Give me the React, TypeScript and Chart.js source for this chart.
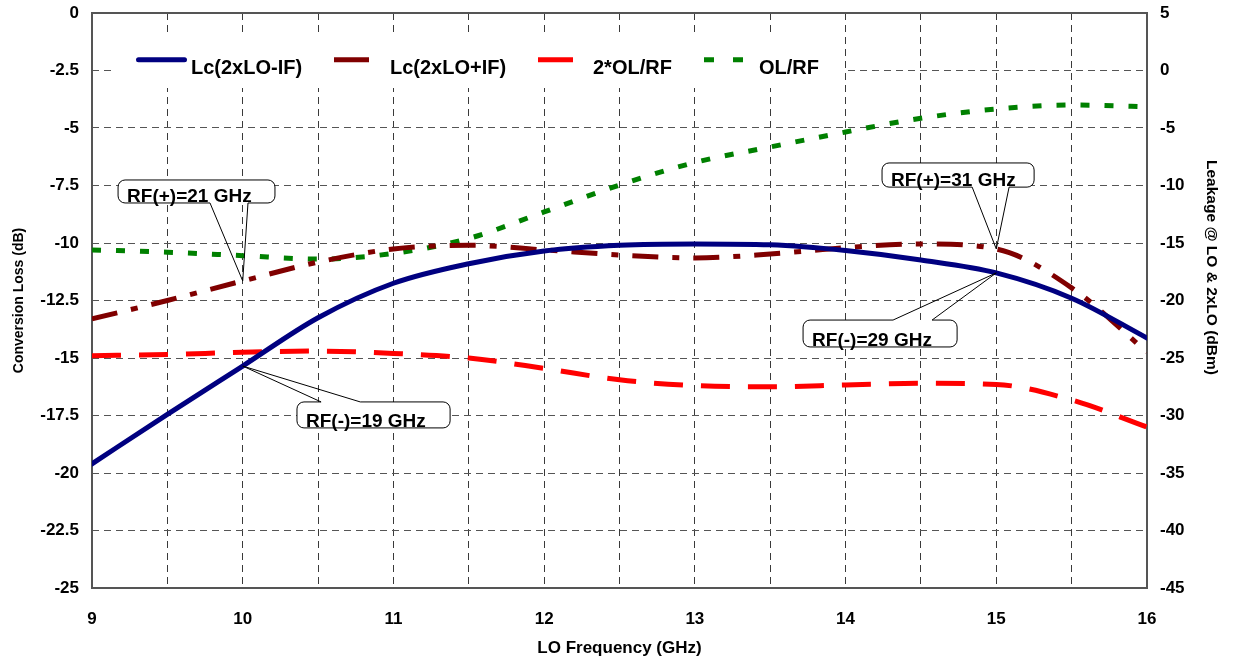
import { useEffect, useRef } from 'react';
import { Chart, registerables } from 'chart.js';

Chart.register(...registerables);

// ---- data ----
const freqGHz = [9, 9.5, 10, 10.5, 11, 11.5, 12, 12.5, 13, 13.5, 14, 14.5, 15, 15.5, 16];
// Conversion loss (dB), left axis
const lcMinusIF = [-19.6, -17.45, -15.35, -13.25, -11.75, -10.9, -10.35, -10.1, -10.04, -10.08, -10.33, -10.74, -11.3, -12.4, -14.13];
const lcPlusIF = [-13.3, -12.5, -11.65, -10.83, -10.26, -10.1, -10.3, -10.52, -10.65, -10.48, -10.2, -10.04, -10.26, -11.95, -14.74];
// Leakage (dBm), right axis
const olRf2 = [-24.8, -24.7, -24.5, -24.4, -24.6, -25.0, -25.9, -26.9, -27.4, -27.5, -27.35, -27.2, -27.3, -28.65, -31.0];
const olRf = [-15.6, -15.8, -16.1, -16.4, -15.9, -14.6, -12.3, -9.96, -8.0, -6.65, -5.35, -4.15, -3.35, -3.0, -3.15];

const seriesNames = ['Lc(2xLO-IF)', 'Lc(2xLO+IF)', '2*OL/RF', 'OL/RF'];
const axisTitles = ['LO Frequency (GHz)', 'Conversion Loss (dB)', 'Leakage @ LO & 2xLO (dBm)'];
const calloutTexts = ['RF(+)=21 GHz', 'RF(-)=19 GHz', 'RF(+)=31 GHz', 'RF(-)=29 GHz'];

// ---- styles ----
const FONT = "'Liberation Sans', Arial, Helvetica, sans-serif";
const colors = ['#000080', '#800000', '#ff0000', '#008000'];
const dashes: number[][] = [[], [26, 14, 7, 14], [29, 18], [9, 15]];
const widths = [5, 5, 5, 5];
const gridDash = [7, 5];

// callouts: box in data coords [x0, x1, yTop, yBottom] (left axis), pointer base x's, tip on series at index
const callouts = [
  { text: calloutTexts[0], box: [9.173, 10.214, -7.26, -8.26], base: [9.783, 10.035], side: 'bottom', values: lcPlusIF, index: 2 },
  { text: calloutTexts[1], box: [10.36, 11.376, -16.91, -18.04], base: [10.52, 10.78], side: 'top', values: lcMinusIF, index: 2 },
  { text: calloutTexts[2], box: [14.242, 15.251, -6.52, -7.57], base: [14.84, 15.085], side: 'bottom', values: lcPlusIF, index: 12 },
  { text: calloutTexts[3], box: [13.718, 14.74, -13.35, -14.52], base: [14.315, 14.574], side: 'top', values: lcMinusIF, index: 12 },
];

// legend layout, pixel offsets from chart area top-left
const legendBox = { x0: 24, x1: 751, y0: 23, y1: 75, lineY: 46.7, textY: 60.5 };
const legendItems = [
  { s0: 44, s1: 95, tx: 99, cap: 'round' as CanvasLineCap, dash: [] as number[] },
  { s0: 242, s1: 277, tx: 298, cap: 'butt' as CanvasLineCap, dash: [] as number[] },
  { s0: 446, s1: 481, tx: 501, cap: 'butt' as CanvasLineCap, dash: [] as number[] },
  { s0: 612, s1: 651, tx: 667, cap: 'butt' as CanvasLineCap, dash: [10, 19] },
];

function drawCallout(ctx: CanvasRenderingContext2D, chart: any, c: any) {
  const xs = chart.scales.x;
  const ys = chart.scales.y;
  const x0 = xs.getPixelForValue(c.box[0]);
  const x1 = xs.getPixelForValue(c.box[1]);
  const yT = ys.getPixelForValue(c.box[2]);
  const yB = ys.getPixelForValue(c.box[3]);
  const b1 = xs.getPixelForValue(c.base[0]);
  const b2 = xs.getPixelForValue(c.base[1]);
  const tx = xs.getPixelForValue(freqGHz[c.index]);
  const ty = ys.getPixelForValue(c.values[c.index]);
  const r = 7;
  ctx.save();
  ctx.setLineDash([]);
  ctx.fillStyle = '#ffffff';
  ctx.beginPath();
  ctx.moveTo(x0 + r, yT);
  ctx.lineTo(x1 - r, yT);
  ctx.arcTo(x1, yT, x1, yT + r, r);
  ctx.lineTo(x1, yB - r);
  ctx.arcTo(x1, yB, x1 - r, yB, r);
  ctx.lineTo(x0 + r, yB);
  ctx.arcTo(x0, yB, x0, yB - r, r);
  ctx.lineTo(x0, yT + r);
  ctx.arcTo(x0, yT, x0 + r, yT, r);
  ctx.closePath();
  ctx.fill();

  ctx.beginPath();
  ctx.moveTo(x0 + r, yT);
  if (c.side === 'top') {
    ctx.lineTo(b1, yT);
    ctx.lineTo(tx, ty);
    ctx.lineTo(b2, yT);
  }
  ctx.lineTo(x1 - r, yT);
  ctx.arcTo(x1, yT, x1, yT + r, r);
  ctx.lineTo(x1, yB - r);
  ctx.arcTo(x1, yB, x1 - r, yB, r);
  if (c.side === 'bottom') {
    ctx.lineTo(b2, yB);
    ctx.lineTo(tx, ty);
    ctx.lineTo(b1, yB);
  }
  ctx.lineTo(x0 + r, yB);
  ctx.arcTo(x0, yB, x0, yB - r, r);
  ctx.lineTo(x0, yT + r);
  ctx.arcTo(x0, yT, x0 + r, yT, r);
  ctx.closePath();
  ctx.strokeStyle = '#000';
  ctx.lineWidth = 1;
  ctx.stroke();

  ctx.fillStyle = '#000';
  ctx.font = `bold 19px ${FONT}`;
  ctx.textAlign = 'left';
  ctx.textBaseline = 'alphabetic';
  ctx.fillText(c.text, x0 + 9, yB - 1);
  ctx.restore();
}

const decorPlugin = {
  id: 'decor',
  beforeDatasetsDraw(chart: any) {
    const { ctx, chartArea: a } = chart;
    ctx.save();
    // frame
    ctx.strokeStyle = '#555';
    ctx.lineWidth = 2;
    ctx.setLineDash([]);
    ctx.strokeRect(a.left, a.top, a.right - a.left, a.bottom - a.top);
    // legend
    ctx.fillStyle = '#fff';
    ctx.fillRect(a.left + legendBox.x0, a.top + legendBox.y0, legendBox.x1 - legendBox.x0, legendBox.y1 - legendBox.y0);
    legendItems.forEach((it, i) => {
      ctx.beginPath();
      ctx.strokeStyle = colors[i];
      ctx.lineWidth = widths[i];
      ctx.lineCap = it.cap;
      ctx.setLineDash(it.dash);
      const inset = it.cap === 'round' ? widths[i] / 2 : 0;
      ctx.moveTo(a.left + it.s0 + inset, a.top + legendBox.lineY);
      ctx.lineTo(a.left + it.s1 - inset, a.top + legendBox.lineY);
      ctx.stroke();
      ctx.setLineDash([]);
      ctx.fillStyle = '#000';
      ctx.font = `bold 20px ${FONT}`;
      ctx.textAlign = 'left';
      ctx.textBaseline = 'alphabetic';
      ctx.fillText(seriesNames[i], a.left + it.tx, a.top + legendBox.textY);
    });
    // right axis title (sits above the axis middle in the original)
    const rs = chart.scales.y2;
    ctx.translate(rs.right - 22, (a.top + a.bottom) / 2 - 33);
    ctx.rotate(Math.PI / 2);
    ctx.fillStyle = '#000';
    ctx.font = `bold 15.5px ${FONT}`;
    ctx.textAlign = 'center';
    ctx.textBaseline = 'middle';
    ctx.fillText(axisTitles[2], 0, 0);
    ctx.restore();
  },
  afterDatasetsDraw(chart: any) {
    const { ctx } = chart;
    callouts.forEach((c) => drawCallout(ctx, chart, c));
  },
};

export default function App() {
  const ref = useRef<HTMLCanvasElement | null>(null);

  useEffect(() => {
    if (!ref.current) return;
    const seriesValues = [lcMinusIF, lcPlusIF, olRf2, olRf];
    const axisIds = ['y', 'y', 'y2', 'y2'];
    const tickFont = { family: FONT, size: 17, weight: 'bold' as const };
    const chart = new Chart(ref.current, {
      type: 'line',
      data: {
        datasets: seriesValues.map((vals, i) => ({
          label: seriesNames[i],
          data: vals.map((v, k) => ({ x: freqGHz[k], y: v })),
          yAxisID: axisIds[i],
          borderColor: colors[i],
          backgroundColor: colors[i],
          borderWidth: widths[i],
          borderDash: dashes[i],
          borderCapStyle: i === 0 ? 'round' : 'butt',
          pointRadius: 0,
          fill: false,
          cubicInterpolationMode: 'monotone',
        })),
      },
      plugins: [decorPlugin],
      options: {
        animation: false,
        responsive: true,
        maintainAspectRatio: false,
        layout: { padding: { top: 13, left: 0, right: 0, bottom: 0 } },
        plugins: {
          legend: { display: false },
          tooltip: { enabled: false },
        },
        scales: {
          x: {
            type: 'linear',
            min: 9,
            max: 16,
            border: { display: false, dash: gridDash },
            grid: { color: '#3a3a3a', lineWidth: 1, drawTicks: false },
            ticks: {
              stepSize: 0.5,
              autoSkip: false,
              maxRotation: 0,
              padding: 21,
              color: '#000',
              font: tickFont,
              callback: (v: any) => (Number.isInteger(Number(v)) ? String(v) : ''),
            },
            title: { display: true, text: axisTitles[0], color: '#000', font: { family: FONT, size: 17, weight: 'bold' }, padding: { top: 0, bottom: 4 } },
            afterFit: (s: any) => { s.height = 75; },
          },
          y: {
            type: 'linear',
            position: 'left',
            min: -25,
            max: 0,
            border: { display: false, dash: gridDash },
            grid: { color: '#555', lineWidth: 1, drawTicks: true, tickLength: 13, tickColor: 'rgba(0,0,0,0)' },
            ticks: { stepSize: 2.5, padding: 0, color: '#000', font: tickFont },
            title: { display: true, text: axisTitles[1], color: '#000', font: { family: FONT, size: 14, weight: 'bold' }, padding: { top: 11, bottom: 0 } },
            afterFit: (s: any) => { s.width = 92; },
          },
          y2: {
            type: 'linear',
            position: 'right',
            min: -45,
            max: 5,
            border: { display: false },
            grid: { drawOnChartArea: false, drawTicks: true, tickLength: 13, tickColor: 'rgba(0,0,0,0)' },
            ticks: { stepSize: 5, padding: 0, color: '#000', font: tickFont },
            title: { display: false },
            afterFit: (s: any) => { s.width = 86; },
          },
        },
      },
    } as any);
    return () => chart.destroy();
  }, []);

  return (
    <div style={{ position: 'fixed', left: 0, top: 0, width: 1233, height: 663, background: '#fff' }}>
      <canvas ref={ref} />
    </div>
  );
}
